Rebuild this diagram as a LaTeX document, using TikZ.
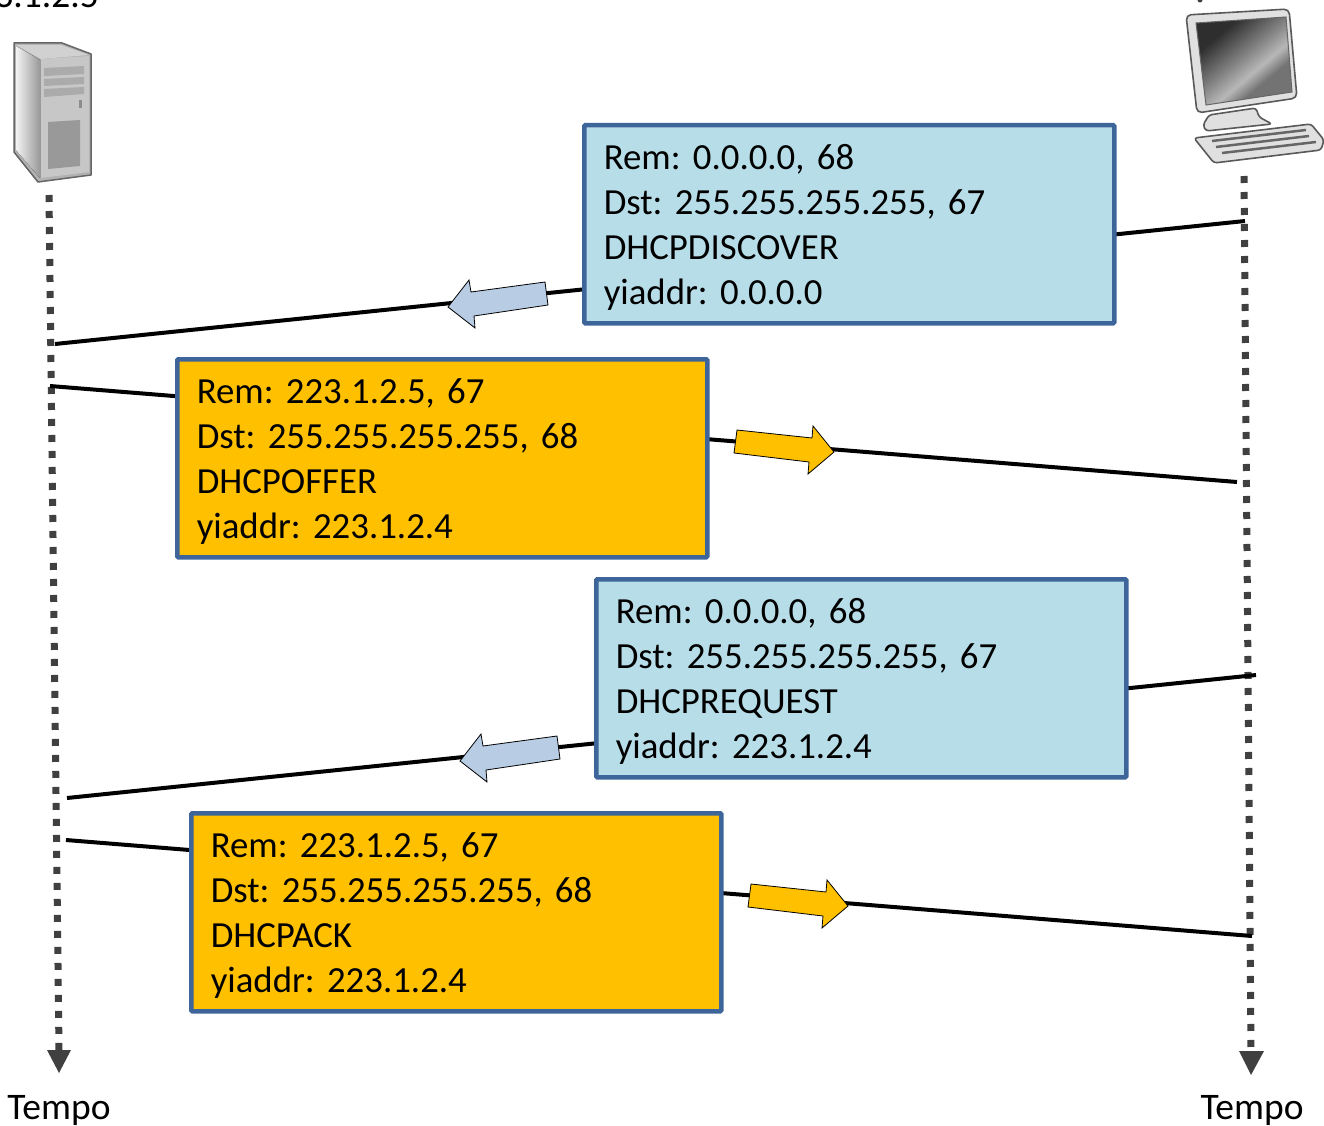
\documentclass[tikz,border=0pt]{standalone}
\usepackage{fontspec}
\setmainfont[WordSpace=0.9]{Carlito}
\frenchspacing
\definecolor{boxborder}{HTML}{3E6599}
\definecolor{bluefill}{HTML}{B7DDE8}
\definecolor{orangefill}{HTML}{FFC000}
\definecolor{arrowblue}{HTML}{B8CCE4}
\definecolor{timegrey}{HTML}{404040}
\pgfdeclareverticalshading{screenshade}{100bp}{
  color(0bp)=(black!55); color(34bp)=(black!55); color(42bp)=(black!28); color(52bp)=(black!48);
  color(70bp)=(black!82); color(100bp)=(black!82)}
\tikzset{
  msgbox/.style={draw=boxborder,line width=4.5pt,rounded corners=1pt,minimum width=530pt,minimum height=198pt,
    align=left,anchor=north west,text width=491pt,inner xsep=19.5pt,inner ysep=0pt,
    font=\fontsize{36.8}{45}\selectfont},
  bluebox/.style={msgbox,fill=bluefill},
  orangebox/.style={msgbox,fill=orangefill},
  msgline/.style={line width=4pt,black},
  timeline/.style={line width=7pt,timegrey,dash pattern=on 7pt off 9pt},
  timehead/.style={fill=timegrey,draw=none},
  timelabel/.style={font=\fontsize{37.5}{45}\selectfont,inner sep=0pt},
  blockarrow/.style={draw=black,line width=0.8pt,line join=miter},
  devline/.style={draw=black!65,line width=1.6pt,line join=round}
}
\newcommand{\leftarrowshape}[2]{%
  \draw[blockarrow,fill=#2,shift={(#1)}] (448,307) -- (469,280) -- (471,292) -- (545,282) -- (548,305) -- (474,316) -- (475,328) -- cycle;}
\newcommand{\rightarrowshape}[2]{%
  \draw[blockarrow,fill=#2,shift={(#1)}] (737,430) -- (812,438) -- (813,426) -- (834,452) -- (808,474) -- (809,462) -- (734,453) -- cycle;}
\newcommand{\boxtext}[4]{\rule{0pt}{31pt}#1\\#2\\#3\\#4}
\begin{document}
\begin{tikzpicture}[x=1pt,y=-1pt]
\useasboundingbox (0,0) rectangle (1324,1126);
\clip (0,0) rectangle (1324,1126);

% time lines
\coordinate (ltop) at (49,195);
\coordinate (lbot) at (59,1050);
\coordinate (rtop) at (1244,176);
\coordinate (rbot) at (1251,1050);
\draw[timeline] (ltop) -- (lbot);
\draw[timeline] (rtop) -- (rbot);
\fill[timehead] (47,1050) -- (71,1050) -- (59,1073) -- cycle;
\fill[timehead] (1239,1051) -- (1264,1051) -- (1251,1075) -- cycle;

% server
\node[font=\fontsize{37.5}{45}\selectfont,anchor=base east,inner sep=0pt] (srvlabel) at (99,8) {3.1.2.5};
\draw[fill=black!30,draw=black!60,line width=1.5pt,line join=round]
  (14,43) -- (62,43) -- (91,54) -- (91,175) -- (38,182) -- (14,152) -- cycle;
\fill[left color=black!5,right color=black!40] (16,46) -- (40,60) -- (40,178) -- (16,150) -- cycle;
\fill[black!18] (16,45) -- (61,45) -- (89,55) -- (41,59) -- cycle;
\fill[black!22] (41,59) -- (89,56) -- (89,172) -- (41,178) -- cycle;
\fill[black!33] (44,68) -- (84,66) -- (84,74) -- (44,76) -- cycle;
\fill[black!33] (44,79) -- (84,77) -- (84,84) -- (44,86) -- cycle;
\fill[black!33] (44,89) -- (84,87) -- (84,94) -- (44,97) -- cycle;
\fill[black!45] (79,100) rectangle (82,108);
\fill[black!40] (48,122) -- (80,120) -- (80,166) -- (48,169) -- cycle;

% computer
\fill[black!75] (1200,0) circle (2.5);
\filldraw[fill=black!12,devline,rounded corners=3pt] (1194,138) -- (1311,124) -- (1324,140) -- (1321,150) -- (1214,163) -- cycle;
\draw[black!60,line width=2.5pt] (1212,141) -- (1306,130);
\draw[black!60,line width=2.5pt] (1216,147) -- (1309,136);
\draw[black!60,line width=2.5pt] (1222,153) -- (1316,142);
\filldraw[fill=black!12,devline,rounded corners=3pt] (1209,115) -- (1256,108) -- (1259,117) -- (1272,124) -- (1206,131) -- (1203,125) -- cycle;
\filldraw[fill=black!12,devline,rounded corners=5pt] (1186,15) -- (1289,9) -- (1297,98) -- (1197,113) -- cycle;
\shade[shading=screenshade,shading angle=40]
  (1196,23) -- (1286,17) -- (1292,92) -- (1206,105) -- cycle;
\draw[black!60,line width=1pt] (1196,23) -- (1286,17) -- (1292,92) -- (1206,105) -- cycle;

% message lines (behind the boxes)
\coordinate (m1a) at (1245,221);
\coordinate (m1b) at (55,344);
\coordinate (m2a) at (50,386);
\coordinate (m2b) at (1237,482);
\coordinate (m3a) at (1256,675);
\coordinate (m3b) at (67,798);
\coordinate (m4a) at (66,840);
\coordinate (m4b) at (1252,936);
\draw[msgline] (m1a) -- (m1b);
\draw[msgline] (m2a) -- (m2b);
\draw[msgline] (m3a) -- (m3b);
\draw[msgline] (m4a) -- (m4b);

% small direction arrows
\leftarrowshape{0,0}{arrowblue}
\rightarrowshape{0,0}{orangefill}
\leftarrowshape{12,454}{arrowblue}
\rightarrowshape{14,454}{orangefill}

% message boxes
\node[bluebox] (b1) at (582,123) {\boxtext{Rem: 0.0.0.0, 68}{Dst: 255.255.255.255, 67}{DHCPDISCOVER}{yiaddr: 0.0.0.0}};
\node[orangebox] (b2) at (175,357) {\boxtext{Rem: 223.1.2.5, 67}{Dst: 255.255.255.255, 68}{DHCPOFFER}{yiaddr: 223.1.2.4}};
\node[bluebox] (b3) at (594,577) {\boxtext{Rem: 0.0.0.0, 68}{Dst: 255.255.255.255, 67}{DHCPREQUEST}{yiaddr: 223.1.2.4}};
\node[orangebox] (b4) at (189,811) {\boxtext{Rem: 223.1.2.5, 67}{Dst: 255.255.255.255, 68}{DHCPACK}{yiaddr: 223.1.2.4}};

% time labels
\node[timelabel,anchor=base] (tl) at (59,1119) {Tempo};
\node[timelabel,anchor=base] (tr) at (1252,1119) {Tempo};
\end{tikzpicture}
\end{document}
